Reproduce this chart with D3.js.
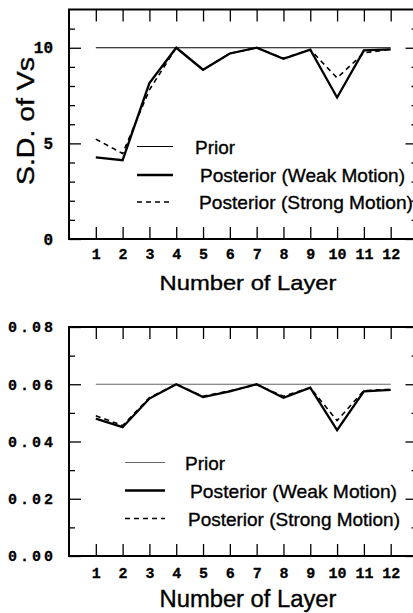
<!DOCTYPE html>
<html>
<head>
<meta charset="utf-8">
<script src="https://cdn.jsdelivr.net/npm/d3@7"></script>
<style>
  body { margin: 0; background: #fff; }
  svg { display: block; }
  .tick text { font-family: "Liberation Mono", "DejaVu Sans Mono", monospace; font-weight: bold; fill: #000; stroke: #000; stroke-width: 0.3; }
  .tick line { stroke: #000; stroke-width: 1.3; }
  .title, .legend text { font-family: "Liberation Sans", Arial, sans-serif; fill: #000; stroke: #000; stroke-width: 0.35; }
</style>
</head>
<body>
<script>
// layer numbers on the x axis
var layers = [1, 2, 3, 4, 5, 6, 7, 8, 9, 10, 11, 12];

// upper panel: S.D. of Vs
var sdPrior  = [10, 10, 10, 10, 10, 10, 10, 10, 10, 10, 10, 10];
var sdWeak   = [4.27, 4.12, 8.15, 10.0, 8.85, 9.7, 10.0, 9.42, 9.9, 7.4, 9.86, 9.92];
var sdStrong = [5.22, 4.47, 7.8, 10.0, 8.85, 9.7, 10.0, 9.45, 9.9, 8.42, 9.73, 9.92];

// lower panel
var cvPrior  = [0.06, 0.06, 0.06, 0.06, 0.06, 0.06, 0.06, 0.06, 0.06, 0.06, 0.06, 0.06];
var cvWeak   = [0.0480, 0.0450, 0.0550, 0.0600, 0.0555, 0.0575, 0.0600, 0.0553, 0.0588, 0.0440, 0.0575, 0.0580];
var cvStrong = [0.0490, 0.0456, 0.0553, 0.0600, 0.0558, 0.0577, 0.0598, 0.0558, 0.0588, 0.0473, 0.0578, 0.0582];

var sdMajor = [0, 5, 10];
var sdMinor = [1, 2, 3, 4, 6, 7, 8, 9, 11];
var cvMajor = [0, 0.02, 0.04, 0.06, 0.08];
var cvMinor = [0.01, 0.03, 0.05, 0.07];

var legendLabels = ["Prior", "Posterior (Weak Motion)", "Posterior (Strong Motion)"];

var svg = d3.select("body").append("svg")
  .attr("width", 413)
  .attr("height", 613);

var x = d3.scaleLinear().domain([0, 13]).range([69, 417.5]);

function drawPanel(p) {
  var y = d3.scaleLinear().domain(p.domain).range([p.bottom, p.top]);
  var g = svg.append("g");

  // bottom axis with labels
  g.append("g")
    .attr("transform", "translate(0," + p.bottom + ")")
    .call(d3.axisBottom(x).tickValues(layers).tickSize(-12).tickPadding(p.xPad).tickFormat(d3.format("d")))
    .call(function (a) { a.select(".domain").remove(); })
    .selectAll("text").style("font-size", "15px");

  g.append("g")
    .attr("transform", "translate(0," + p.top + ")")
    .call(d3.axisTop(x).tickValues(layers).tickSize(-12).tickFormat(""))
    .call(function (a) { a.select(".domain").remove(); });

  // left axis
  var left = g.append("g")
    .attr("transform", "translate(69,0)")
    .call(d3.axisLeft(y).tickValues(p.major).tickSize(-12).tickPadding(16).tickFormat(p.fmt))
    .call(function (a) { a.select(".domain").remove(); });
  left.selectAll("text")
    .style("font-size", p.yFont + "px")
    .each(function () {
      if (p.yLen) d3.select(this).attr("textLength", p.yLen).attr("lengthAdjust", "spacing");
    });
  g.append("g")
    .attr("transform", "translate(69,0)")
    .call(d3.axisLeft(y).tickValues(p.minor).tickSize(-6).tickFormat(""))
    .call(function (a) { a.select(".domain").remove(); });

  // right axis
  g.append("g")
    .attr("transform", "translate(417.5,0)")
    .call(d3.axisRight(y).tickValues(p.major).tickSize(-12).tickFormat(""))
    .call(function (a) { a.select(".domain").remove(); });
  g.append("g")
    .attr("transform", "translate(417.5,0)")
    .call(d3.axisRight(y).tickValues(p.minor).tickSize(-6).tickFormat(""))
    .call(function (a) { a.select(".domain").remove(); });

  // frame
  g.append("rect")
    .attr("x", x(0)).attr("y", p.top)
    .attr("width", x(13) - x(0)).attr("height", p.bottom - p.top)
    .attr("fill", "none").attr("stroke", "#000").attr("stroke-width", 2);

  var line = d3.line()
    .x(function (d, i) { return x(layers[i]); })
    .y(function (d) { return y(d); });

  var series = [
    { values: p.prior,  color: p.priorColor, width: 1.1, dash: null },
    { values: p.weak,   color: "#000", width: 2.3, dash: null },
    { values: p.strong, color: "#000", width: 1.6, dash: "5,4" }
  ];

  series.forEach(function (s) {
    g.append("path")
      .datum(s.values)
      .attr("d", line)
      .attr("fill", "none")
      .attr("stroke", s.color)
      .attr("stroke-width", s.width)
      .attr("stroke-dasharray", s.dash);
  });

  // legend
  var lg = g.append("g").attr("class", "legend");
  series.forEach(function (s, i) {
    var ly = p.legY[i];
    lg.append("line")
      .attr("x1", p.legX0).attr("x2", p.legX1)
      .attr("y1", ly).attr("y2", ly)
      .attr("stroke", s.color)
      .attr("stroke-width", s.width)
      .attr("stroke-dasharray", s.dash);
    var t = lg.append("text")
      .attr("x", p.legTx[i])
      .attr("y", ly + 7)
      .style("font-size", "19px")
      .text(legendLabels[i]);
    if (p.legLen[i]) t.attr("textLength", p.legLen[i]).attr("lengthAdjust", "spacingAndGlyphs");
  });

  // x title
  g.append("text")
    .attr("class", "title")
    .attr("x", 248)
    .attr("y", p.titleY)
    .attr("text-anchor", "middle")
    .attr("textLength", 177)
    .attr("lengthAdjust", "spacingAndGlyphs")
    .style("font-size", p.titleFont + "px")
    .text("Number of Layer");

  if (p.yTitle) {
    g.append("text")
      .attr("class", "title")
      .attr("transform", "translate(34," + 121 + ") rotate(-90)")
      .attr("text-anchor", "middle")
      .attr("textLength", 128)
      .attr("lengthAdjust", "spacingAndGlyphs")
      .style("font-size", "23px")
      .text(p.yTitle);
  }
}

drawPanel({
  domain: [0, 12], top: 9.5, bottom: 239,
  major: sdMajor, minor: sdMinor, fmt: d3.format("d"), yFont: 16, yLen: null,
  prior: sdPrior, weak: sdWeak, strong: sdStrong, priorColor: "#000",
  xPad: 9, titleY: 290, titleFont: 21,
  legX0: 137, legX1: 173, legY: [146.5, 175, 202], legTx: [195, 200, 199], legLen: [null, 205, 214],
  yTitle: "S.D. of Vs"
});

drawPanel({
  domain: [0, 0.08], top: 327, bottom: 556,
  major: cvMajor, minor: cvMinor, fmt: d3.format(".2f"), yFont: 15, yLen: 45,
  prior: cvPrior, weak: cvWeak, strong: cvStrong, priorColor: "#666",
  xPad: 11, titleY: 607, titleFont: 23,
  legX0: 125, legX1: 165, legY: [462.5, 490.5, 518.5], legTx: [185, 190, 188], legLen: [null, 207, 212],
  yTitle: null
});
</script>
</body>
</html>
